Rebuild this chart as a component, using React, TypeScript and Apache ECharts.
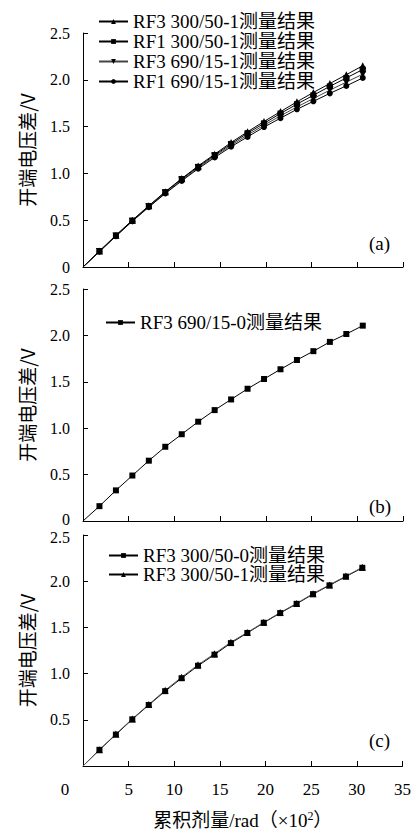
import React, { useEffect, useRef } from "react";
import * as echarts from "echarts";

// Cumulative dose (×10² rad)
const dose = [0, 1.8, 3.6, 5.4, 7.2, 9.0, 10.8, 12.6, 14.4, 16.2, 18.0, 19.8, 21.6, 23.4, 25.2, 27.0, 28.8, 30.6];

// Panel (a)
const aRF3_300_50_1 = [0, 0.17, 0.34, 0.5, 0.655, 0.805, 0.945, 1.08, 1.205, 1.33, 1.445, 1.555, 1.66, 1.765, 1.865, 1.96, 2.055, 2.15];
const aRF1_300_50_1 = [0, 0.17, 0.335, 0.495, 0.65, 0.8, 0.94, 1.07, 1.195, 1.315, 1.43, 1.535, 1.64, 1.74, 1.835, 1.93, 2.02, 2.11];
const aRF3_690_15_1 = [0, 0.165, 0.33, 0.49, 0.645, 0.79, 0.93, 1.06, 1.185, 1.3, 1.41, 1.515, 1.615, 1.71, 1.8, 1.89, 1.975, 2.06];
const aRF1_690_15_1 = [0, 0.165, 0.33, 0.49, 0.64, 0.785, 0.92, 1.05, 1.17, 1.285, 1.39, 1.495, 1.59, 1.685, 1.77, 1.855, 1.935, 2.02];

// Panel (b)
const bRF3_690_15_0 = [0, 0.16, 0.33, 0.49, 0.65, 0.8, 0.935, 1.07, 1.195, 1.31, 1.425, 1.53, 1.635, 1.735, 1.83, 1.93, 2.015, 2.105];

// Panel (c)
const cRF3_300_50_0 = [0, 0.175, 0.34, 0.505, 0.66, 0.81, 0.95, 1.085, 1.205, 1.33, 1.44, 1.55, 1.655, 1.755, 1.86, 1.955, 2.05, 2.145];
const cRF3_300_50_1 = [0, 0.175, 0.345, 0.51, 0.665, 0.82, 0.96, 1.095, 1.215, 1.34, 1.445, 1.555, 1.66, 1.76, 1.865, 1.96, 2.055, 2.15];

const yTicks = [0, 0.5, 1.0, 1.5, 2.0, 2.5];
const xTicks = [0, 5, 10, 15, 20, 25, 30, 35];

const nameA = ["RF3 300/50-1测量结果", "RF1 300/50-1测量结果", "RF3 690/15-1测量结果", "RF1 690/15-1测量结果"];
const nameB = ["RF3 690/15-0测量结果"];
const nameC = ["RF3 300/50-0测量结果", "RF3 300/50-1测量结果"];
const panelTags = ["(a)", "(b)", "(c)"];
const yName = "开端电压差/V";

const SERIF = "'Liberation Serif', 'Times New Roman', 'Noto Sans CJK SC', serif";
const SANS = "'Noto Sans CJK SC', 'Liberation Sans', sans-serif";

function toData(ys: number[]) {
  return ys.map((y, i) =>
    i === 0 ? { value: [dose[i], y], symbol: "none" } : { value: [dose[i], y] }
  );
}

export default function App() {
  const ref = useRef<HTMLDivElement>(null);
  useEffect(() => {
    if (!ref.current) return;
    const chart = echarts.init(ref.current, null, { renderer: "svg" });

    const grids = [
      { left: 83, right: 11, top: 33, height: 234 },
      { left: 83, right: 11, top: 289, height: 232 },
      { left: 83, right: 11, top: 535, height: 233 },
    ];

    const xAxes = grids.map((_, i) => ({
      type: "value",
      gridIndex: i,
      min: xTicks[0],
      max: xTicks[xTicks.length - 1],
      interval: 5,
      axisLine: { lineStyle: { color: "#000", width: 1 } },
      axisTick: { inside: true, length: 5, lineStyle: { color: "#000" } },
      splitLine: { show: false },
      axisLabel:
        i === 2
          ? {
              show: true,
              margin: 15,
              color: "#000",
              fontSize: 17,
              fontFamily: SERIF,
              formatter: (v: number) => (v === 0 ? "{z|0}" : String(v)),
              rich: {
                z: { fontSize: 17, fontFamily: SERIF, color: "#000", padding: [0, 36, 0, 0] },
              },
            }
          : { show: false },
      name: i === 2 ? "{a|累积剂量/rad（×10}{s|2}{a|）}" : "",
      nameLocation: "middle",
      nameGap: 44,
      nameTextStyle: {
        rich: {
          a: { fontSize: 19, fontFamily: SERIF, color: "#000" },
          s: { fontSize: 12, fontFamily: SERIF, color: "#000", padding: [0, 0, 9, 0] },
        },
      },
    }));

    const yAxes = grids.map((_, i) => ({
      type: "value",
      gridIndex: i,
      min: yTicks[0],
      max: yTicks[yTicks.length - 1],
      interval: 0.5,
      axisLine: { show: true, lineStyle: { color: "#000", width: 1 } },
      axisTick: { show: true, inside: true, length: 5, lineStyle: { color: "#000" } },
      splitLine: { show: false },
      axisLabel: {
        margin: 13,
        color: "#000",
        fontSize: 16,
        fontFamily: SERIF,
        formatter: (v: number) => {
          if (v === 0) return i === 2 ? "" : i === 1 ? "{lo|0}" : "0";
          if (v === 2.5 && i === 2) return "{hi|2.5}";
          return v.toFixed(1);
        },
        rich: {
          lo: { fontSize: 16, fontFamily: SERIF, color: "#000", padding: [0, 0, 4, 0] },
          hi: { fontSize: 16, fontFamily: SERIF, color: "#000", padding: [4, 0, 0, 0] },
        },
      },
      name: yName,
      nameLocation: "middle",
      nameGap: 47,
      nameTextStyle: { fontSize: 19, fontFamily: SANS, color: "#000" },
    }));

    const mk = (
      name: string,
      ys: number[],
      g: number,
      symbol: string,
      size: number,
      lineColor: string,
      rotate = 0
    ) => ({
      type: "line",
      name,
      xAxisIndex: g,
      yAxisIndex: g,
      data: toData(ys),
      symbol,
      symbolSize: size,
      symbolRotate: rotate,
      showAllSymbol: true,
      smooth: false,
      lineStyle: { color: lineColor, width: 1 },
      itemStyle: { color: "#000" },
      color: "#000",
    });

    const series = [
      mk(nameA[0], aRF3_300_50_1, 0, "triangle", 7, "#000"),
      mk(nameA[1], aRF1_300_50_1, 0, "rect", 6, "#000"),
      mk(nameA[2], aRF3_690_15_1, 0, "triangle", 7, "#444", 180),
      mk(nameA[3], aRF1_690_15_1, 0, "circle", 6, "#000"),
      mk(nameB[0], bRF3_690_15_0, 1, "rect", 6, "#000"),
      mk(nameC[0], cRF3_300_50_0, 2, "rect", 6, "#000"),
      mk(nameC[1], cRF3_300_50_1, 2, "triangle", 7, "#555"),
    ];

    const legendBase = {
      orient: "vertical",
      itemWidth: 29,
      itemHeight: 6,
      itemGap: 1,
      selectedMode: false,
      textStyle: { fontSize: 19, lineHeight: 19, fontFamily: SERIF, color: "#000" },
    };

    const tag = (text: string, y: number) => ({
      type: "text",
      left: 369,
      top: y,
      style: { text, fontSize: 19, fontFamily: SERIF, fill: "#000" },
    });

    chart.setOption({
      animation: false,
      backgroundColor: "#fff",
      grid: grids,
      xAxis: xAxes,
      yAxis: yAxes,
      legend: [
        { ...legendBase, left: 93, top: 7, data: nameA },
        { ...legendBase, left: 100, top: 308, data: nameB },
        {
          ...legendBase,
          left: 103,
          top: 541,
          itemGap: 0,
          textStyle: { ...legendBase.textStyle, lineHeight: 18 },
          data: nameC,
        },
      ],
      series,
      graphic: [tag(panelTags[0], 234), tag(panelTags[1], 497), tag(panelTags[2], 731)],
    });

    return () => chart.dispose();
  }, []);

  return (
    <div
      ref={ref}
      style={{ position: "absolute", left: 0, top: 0, width: 414, height: 831, background: "#fff" }}
    />
  );
}
